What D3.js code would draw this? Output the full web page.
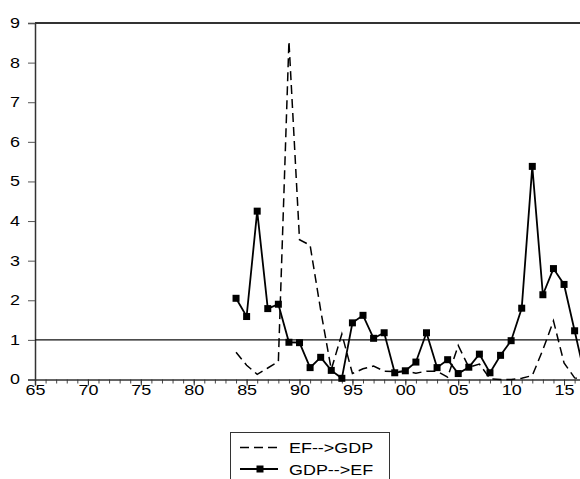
<!DOCTYPE html>
<html>
<head>
<meta charset="utf-8">
<script src="https://cdn.jsdelivr.net/npm/d3@7"></script>
<style>
  body { margin: 0; background: #fff; }
  svg { display: block; font-family: "Liberation Sans", Arial, sans-serif; }
</style>
</head>
<body>
<div id="chart"></div>
<script>
// Years on the x axis (annual data)
const years = [1984, 1985, 1986, 1987, 1988, 1989, 1990, 1991, 1992, 1993,
    1994, 1995, 1996, 1997, 1998, 1999, 2000, 2001, 2002, 2003,
    2004, 2005, 2006, 2007, 2008, 2009, 2010, 2011, 2012, 2013,
    2014, 2015, 2016, 2017];

// EF-->GDP (dashed line)
const efToGdp = [0.69, 0.36, 0.13, 0.29, 0.45, 8.54, 3.53, 3.39, 1.75, 0.25,
    1.15, 0.15, 0.27, 0.34, 0.21, 0.20, 0.21, 0.16, 0.21, 0.21,
    0.06, 0.86, 0.31, 0.39, 0.02, 0.00, 0.00, 0.03, 0.10, 0.75,
    1.48, 0.42, 0.04, 0.00];

// GDP-->EF (solid line with squares)
const gdpToEf = [2.05, 1.59, 4.25, 1.79, 1.90, 0.94, 0.93, 0.30, 0.56, 0.23,
    0.03, 1.43, 1.62, 1.04, 1.18, 0.17, 0.22, 0.44, 1.18, 0.30,
    0.50, 0.15, 0.31, 0.64, 0.17, 0.61, 0.98, 1.80, 5.38, 2.14,
    2.80, 2.40, 1.23, 0.05];

const yTicks = [0, 1, 2, 3, 4, 5, 6, 7, 8, 9];
const xMajorTicks = [1965, 1970, 1975, 1980, 1985, 1990, 1995, 2000, 2005, 2010, 2015];
const refLevel = 1;

const width = 580, height = 479;
const stretch = 1.28; // original text is drawn a bit wide

const svg = d3.select("#chart").append("svg")
    .attr("width", width)
    .attr("height", height);

// Scales (plot runs off the right edge like the original)
const x = d3.scaleLinear().domain([1965, 2017]).range([35, 585.2]);
const y = d3.scaleLinear().domain([0, 9]).range([379.5, 23]);

// widen a text selection horizontally
function widen(sel) {
    sel.each(function () {
        const w = this.getComputedTextLength();
        d3.select(this)
            .attr("textLength", w * stretch)
            .attr("lengthAdjust", "spacingAndGlyphs");
    });
}

// top frame line
svg.append("line")
    .attr("x1", x(1965)).attr("x2", width + 10)
    .attr("y1", y(9)).attr("y2", y(9))
    .attr("stroke", "#333").attr("stroke-width", 2);

// y axis
const yAxis = d3.axisLeft(y)
    .tickValues(yTicks)
    .tickSize(7)
    .tickPadding(8)
    .tickFormat(d3.format("d"));

svg.append("g")
    .attr("class", "y axis")
    .attr("transform", "translate(" + x(1965) + ",0)")
    .call(yAxis)
    .call(g => g.select(".domain").attr("stroke", "#333").attr("stroke-width", 1.5))
    .call(g => g.selectAll(".tick line").attr("stroke", "#555"))
    .call(g => g.selectAll("text").style("font-size", "14px").attr("fill", "#000").call(widen));

// x axis minor ticks (every year)
const xMinor = d3.axisBottom(x)
    .tickValues(d3.range(1965, 2018))
    .tickSize(4)
    .tickFormat("");

svg.append("g")
    .attr("class", "x minor")
    .attr("transform", "translate(0," + y(0) + ")")
    .call(xMinor)
    .call(g => g.select(".domain").remove())
    .call(g => g.selectAll(".tick line").attr("stroke", "#444"));

// x axis major ticks
const xAxis = d3.axisBottom(x)
    .tickValues(xMajorTicks)
    .tickSize(6)
    .tickPadding(0)
    .tickFormat(d => String(d % 100).padStart(2, "0"));

svg.append("g")
    .attr("class", "x axis")
    .attr("transform", "translate(0," + y(0) + ")")
    .call(xAxis)
    .call(g => g.select(".domain").attr("stroke", "#333").attr("stroke-width", 1.5))
    .call(g => g.selectAll(".tick line").attr("stroke", "#333"))
    .call(g => g.selectAll("text").style("font-size", "14px").attr("fill", "#000").call(widen));

// reference line at 1
svg.append("line")
    .attr("x1", x(1965)).attr("x2", width + 10)
    .attr("y1", y(refLevel)).attr("y2", y(refLevel))
    .attr("stroke", "#111").attr("stroke-width", 1.4);

const line = d3.line()
    .x((d, i) => x(years[i]))
    .y(d => y(d));

// EF-->GDP dashed
svg.append("path")
    .datum(efToGdp)
    .attr("fill", "none")
    .attr("stroke", "#000")
    .attr("stroke-width", 1.5)
    .attr("stroke-dasharray", "9,5")
    .attr("d", line);

// GDP-->EF solid with squares
svg.append("path")
    .datum(gdpToEf)
    .attr("fill", "none")
    .attr("stroke", "#000")
    .attr("stroke-width", 1.8)
    .attr("d", line);

const sq = 7;
svg.selectAll(".marker")
    .data(gdpToEf)
    .join("rect")
    .attr("class", "marker")
    .attr("x", (d, i) => x(years[i]) - sq / 2)
    .attr("y", d => y(d) - sq / 2)
    .attr("width", sq)
    .attr("height", sq)
    .attr("fill", "#000");

// legend
const legend = svg.append("g").attr("transform", "translate(230,432)");
legend.append("rect")
    .attr("x", 0.5).attr("y", 0.5)
    .attr("width", 159).attr("height", 70)
    .attr("fill", "#fff")
    .attr("stroke", "#333");

legend.append("line")
    .attr("x1", 10).attr("x2", 48)
    .attr("y1", 15.5).attr("y2", 15.5)
    .attr("stroke", "#000").attr("stroke-width", 1.5)
    .attr("stroke-dasharray", "9,5");
legend.append("text")
    .attr("x", 59).attr("y", 21)
    .style("font-size", "14px")
    .text("EF-->GDP")
    .call(widen);

legend.append("line")
    .attr("x1", 10).attr("x2", 48)
    .attr("y1", 37).attr("y2", 37)
    .attr("stroke", "#000").attr("stroke-width", 1.8);
legend.append("rect")
    .attr("x", 30 - sq / 2).attr("y", 37 - sq / 2)
    .attr("width", sq).attr("height", sq)
    .attr("fill", "#000");
legend.append("text")
    .attr("x", 59).attr("y", 42.5)
    .style("font-size", "14px")
    .text("GDP-->EF")
    .call(widen);
</script>
</body>
</html>
